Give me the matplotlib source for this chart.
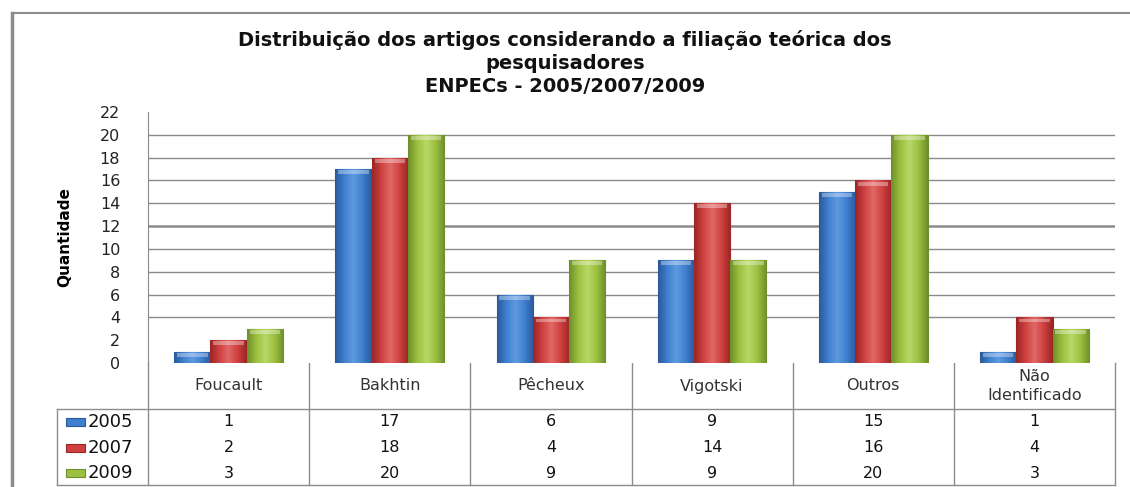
import numpy as np
import matplotlib
matplotlib.use('Agg')
import matplotlib.pyplot as plt
from matplotlib.colors import LinearSegmentedColormap
from matplotlib.lines import Line2D

# dados do gráfico
categorias = ['Foucault', 'Bakhtin', 'Pêcheux', 'Vigotski', 'Outros', 'Não\nIdentificado']
anos = ['2005', '2007', '2009']
valores_2005 = [1, 17, 6, 9, 15, 1]
valores_2007 = [2, 18, 4, 14, 16, 4]
valores_2009 = [3, 20, 9, 9, 20, 3]
series = [valores_2005, valores_2007, valores_2009]

titulo = ('Distribuição dos artigos considerando a filiação teórica dos\n'
          'pesquisadores\nENPECs - 2005/2007/2009')

# cores (escuro, médio, claro) de cada série
cores = [('#2a5a9a', '#3f7fd0', '#5f9ae0'),
         ('#9a2626', '#d04040', '#e06868'),
         ('#6f8f2a', '#9cc040', '#b8d868')]

W, H = 1130, 487
fig = plt.figure(figsize=(W / 100, H / 100), dpi=100)
fig.patch.set_facecolor('white')

# posição do gráfico em pixels
x0, x1 = 148, 1115
y_top, y_base = 112, 363
ax = fig.add_axes([x0 / W, 1 - y_base / H, (x1 - x0) / W, (y_base - y_top) / H])

n = len(categorias)
x = np.arange(n)
larg = 0.225
gradiente = np.linspace(0, 1, 64).reshape(1, -1)

for i, (vals, (c_esc, c_med, c_clr)) in enumerate(zip(series, cores)):
    cmap = LinearSegmentedColormap.from_list('c%d' % i, [c_esc, c_med, c_clr, c_med, c_esc])
    pos = x + (i - 1) * larg
    barras = ax.bar(pos, vals, width=larg, color=c_med, edgecolor=c_esc, linewidth=0.8, zorder=3)
    for b in barras:
        bx, bw, bh = b.get_x(), b.get_width(), b.get_height()
        im = ax.imshow(gradiente, cmap=cmap, aspect='auto', extent=(bx, bx + bw, 0, bh),
                       zorder=3.5)
        im.set_clip_path(b)
        # brilho no topo
        ax.fill_between([bx + bw * 0.08, bx + bw * 0.92], bh - 0.45, bh - 0.1,
                        color='white', alpha=0.35, linewidth=0, zorder=4)

ax.set_xlim(-0.5, n - 0.5)
ax.set_ylim(0, 22)
ax.set_yticks(range(0, 23, 2))
ax.tick_params(axis='y', length=0, labelsize=11.5, pad=20)
for t in ax.get_yticklabels():
    t.set_horizontalalignment('right')
    t.set_color('#222222')
ax.set_xticks([])
for g in range(4, 21, 2):
    ax.axhline(g, color='#8a8a8a', linewidth=1.0 if g != 12 else 1.8, zorder=1)
for s in ['top', 'right', 'bottom']:
    ax.spines[s].set_visible(False)
ax.spines['left'].set_color('#8a8a8a')
ax.set_ylabel('Quantidade', fontsize=11, fontweight='bold', labelpad=20)

# camada de sobreposição em pixels para moldura e tabela
ov = fig.add_axes([0, 0, 1, 1], zorder=-1)
ov.set_xlim(0, W)
ov.set_ylim(H, 0)
ov.axis('off')
ov.patch.set_alpha(0)

# moldura
ov.add_line(Line2D([12, 12], [13, H], color='#8c8c8c', linewidth=2.5))
ov.add_line(Line2D([12, W], [13, 13], color='#8c8c8c', linewidth=1.5))

fig.text(565 / W, 1 - 63 / H, titulo, ha='center', va='center', fontsize=14,
         fontweight='bold', linespacing=1.3, color='#111111')

# tabela de dados
cor_linha = '#8c8c8c'
tab_esq, tab_cab, tab_fim = 57, 409, 485
larg_cat = (x1 - x0) / n
linhas_y = [422, 448, 473]

ov.add_line(Line2D([tab_esq, x1], [tab_cab, tab_cab], color=cor_linha, linewidth=1))
ov.add_line(Line2D([tab_esq, x1], [tab_fim, tab_fim], color=cor_linha, linewidth=1))
ov.add_line(Line2D([tab_esq, tab_esq], [tab_cab, tab_fim], color=cor_linha, linewidth=1))
for k in range(n + 1):
    xv = x0 + k * larg_cat
    ov.add_line(Line2D([xv, xv], [y_base, tab_fim], color=cor_linha, linewidth=1))

for k, cat in enumerate(categorias):
    xc = x0 + (k + 0.5) * larg_cat
    ov.text(xc, 386, cat, ha='center', va='center', fontsize=11.5, color='#333333',
            linespacing=1.3)
    for j, vals in enumerate(series):
        ov.text(xc, linhas_y[j], str(vals[k]), ha='center', va='center', fontsize=11.5,
                color='#111111')

for j, ano in enumerate(anos):
    ov.add_patch(plt.Rectangle((66, linhas_y[j] - 4), 19, 8, facecolor=cores[j][1],
                               edgecolor=cores[j][0], linewidth=0.8))
    ov.text(88, linhas_y[j], ano, ha='left', va='center', fontsize=13, color='#111111')

fig.savefig('out.png', dpi=100)
